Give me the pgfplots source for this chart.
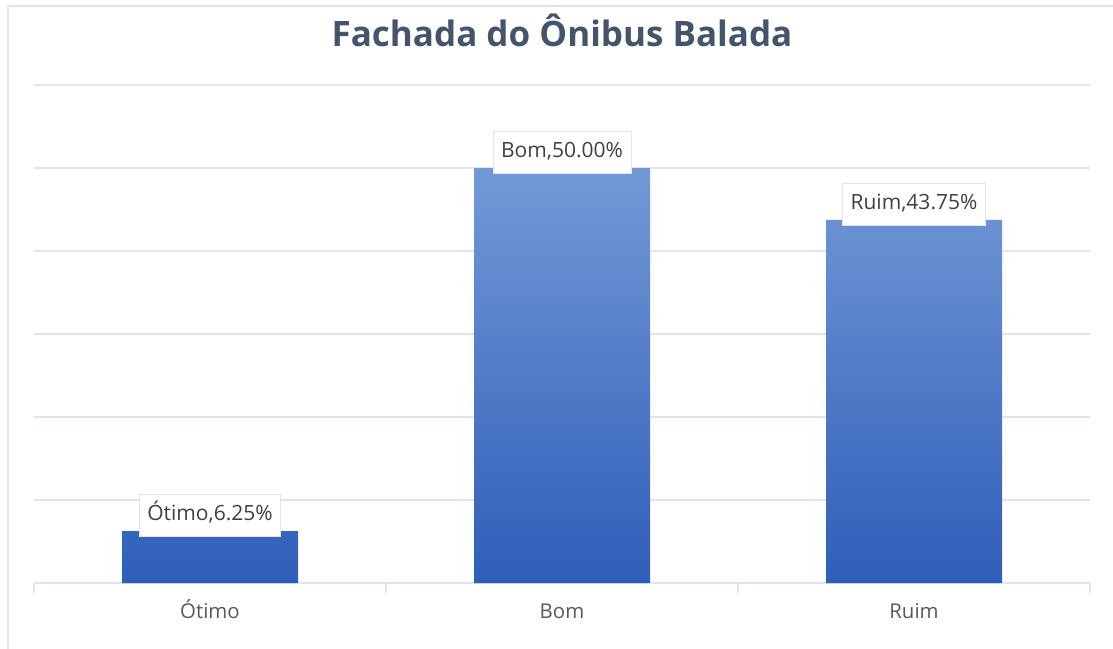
\documentclass[border=0pt]{standalone}
\usepackage{pgfplots}
\pgfplotsset{compat=1.18}
\usepackage{fontspec}
\setmainfont{Open Sans}
\usetikzlibrary{calc}

\definecolor{titlecol}{HTML}{44546A}
\definecolor{gridcol}{HTML}{E1E4EA}
\definecolor{barlight}{HTML}{7399D6}
\definecolor{bardark}{HTML}{2E5EB9}
\definecolor{labcol}{HTML}{404040}
\definecolor{tickcol}{HTML}{595959}

\begin{document}
\begin{tikzpicture}
\begin{axis}[
  name=ax,
  scale only axis,
  width=528pt, height=249pt,
  xmin=-0.5, xmax=2.5,
  ymin=0, ymax=60,
  ybar, bar width=0.5,
  xtick={0,1,2},
  xticklabels={Ótimo,Bom,Ruim},
  minor xtick={-0.5,0.5,1.5,2.5},
  ytick={0,10,...,60},
  yticklabels={},
  ymajorgrids,
  grid style={gridcol, line width=0.8pt},
  axis line style={draw=none},
  xtick pos=bottom,
  ytick style={draw=none},
  major tick length=0pt,
  minor tick length=5pt,
  tick align=outside,
  minor tick style={gridcol, line width=0.8pt},
  xticklabel style={font=\fontsize{10.2}{12}\selectfont, text=tickcol, anchor=base, yshift=-17.5pt},
  title={Fachada do Ônibus Balada},
  title style={font=\fontsize{17.5}{20}\selectfont\bfseries, text=titlecol, at={(0.5,1)}, anchor=base, yshift=13.5pt},
  point meta=explicit symbolic,
  nodes near coords,
  nodes near coords style={font=\fontsize{10.5}{12}\selectfont, text=labcol, fill=white, draw=gridcol,
    inner xsep=4pt, inner ysep=5.5pt, text height=7.5pt, text depth=2.5pt, anchor=south, yshift=-3pt},
]
\addplot[draw=none, top color=barlight, bottom color=bardark] coordinates {
  (0,6.25) [Ótimo,6.25\%]
  (1,50) [Bom,50.00\%]
  (2,43.75) [Ruim,43.75\%]
};
\end{axis}
\pgfresetboundingbox
\path[use as bounding box] ($(ax.south west)+(-17pt,-32.5pt)$) rectangle ($(ax.south west)+(539.5pt,291.5pt)$);
\draw[gridcol, line width=1pt] ($(ax.south west)+(-13pt,-33pt)$) -- ($(ax.south west)+(-13pt,288.5pt)$) -- ($(ax.south west)+(540pt,288.5pt)$);
\end{tikzpicture}
\end{document}
